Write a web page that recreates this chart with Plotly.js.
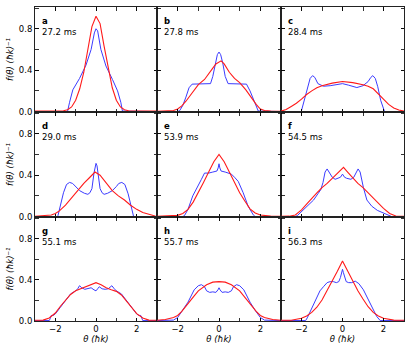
<!DOCTYPE html>
<html>
<head>
<meta charset="utf-8">
<script src="https://cdn.plot.ly/plotly-3.0.1.min.js"></script>
<style>html,body{margin:0;padding:0;background:#fff;}#plot{width:411px;height:344px;}</style>
</head>
<body>
<div id="plot"></div>
<script>
// Panel labels
const panelLetters = ['a','b','c','d','e','f','g','h','i'];
const panelTimes = ['27.2 ms','27.8 ms','28.4 ms','29.0 ms','53.9 ms','54.5 ms','55.1 ms','55.7 ms','56.3 ms'];
const xTickVals = [-2,0,2];
const xTickText = ['\u22122','0','2'];
const yTickVals = [0,0.4,0.8];
const yTickText = ['0.0','0.4','0.8'];
const xTitle = 'θ (ħk)';
const yTitle = 'f(θ) (ħk)\u207B\u00B9';

// Panel a
const aBlueTheta = [-3,-1.4,-1.3,-1.14,-0.81,-0.49,-0.24,-0.08,0,0.08,0.24,0.49,0.81,1.06,1.22,1.3,3];
const aBlueF     = [0,0,0.09,0.21,0.32,0.45,0.6,0.76,0.8,0.78,0.6,0.44,0.31,0.2,0.09,0.005,0];
const aRedTheta  = [-3,-2.5,-2,-1.6,-1.4,-1.2,-1,-0.8,-0.6,-0.4,-0.2,0,0.2,0.4,0.6,0.8,1,1.2,1.4,1.6,2,2.5,3];
const aRedF      = [0.004,0.006,0.004,0.008,0.018,0.045,0.11,0.22,0.38,0.6,0.82,0.92,0.85,0.63,0.41,0.23,0.11,0.045,0.018,0.008,0.005,0.006,0.004];

// Panel b
const bBlueTheta = [-3,-2.0,-1.9,-1.75,-1.6,-1.45,-1.3,-0.9,-0.41,-0.3,-0.18,-0.08,0,0.08,0.18,0.3,0.44,0.9,1.33,1.5,1.65,1.8,1.9,3];
const bBlueF     = [0,0,0.01,0.06,0.14,0.23,0.265,0.27,0.27,0.34,0.47,0.55,0.575,0.55,0.47,0.34,0.27,0.27,0.265,0.2,0.12,0.05,0.005,0];
const bRedTheta  = [-3,-2.5,-2.2,-2,-1.8,-1.6,-1.3,-1,-0.7,-0.5,-0.3,-0.15,0,0.1,0.25,0.5,0.75,1,1.3,1.6,1.8,2,2.2,2.5,3];
const bRedF      = [0.003,0.005,0.01,0.025,0.055,0.1,0.18,0.26,0.31,0.36,0.42,0.46,0.48,0.49,0.46,0.38,0.32,0.28,0.21,0.12,0.07,0.025,0.01,0.005,0.003];

// Panel c
const cBlueTheta = [-3,-2.05,-2.0,-1.85,-1.7,-1.58,-1.46,-1.35,-1.2,-0.93,-0.6,-0.3,0,0.3,0.7,1.0,1.25,1.38,1.48,1.6,1.72,1.86,2.0,2.05,3];
const cBlueF     = [0,0,0.01,0.12,0.25,0.32,0.347,0.33,0.27,0.245,0.25,0.26,0.27,0.255,0.232,0.25,0.29,0.33,0.347,0.32,0.24,0.11,0.01,0,0];
const cRedTheta  = [-3,-2.75,-2.5,-2.25,-2,-1.75,-1.5,-1.25,-1,-0.5,0,0.5,1,1.25,1.5,1.75,2,2.25,2.5,2.75,3];
const cRedF      = [0.004,0.02,0.05,0.08,0.12,0.165,0.2,0.23,0.25,0.275,0.29,0.28,0.26,0.245,0.22,0.17,0.12,0.07,0.035,0.015,0.004];

// Panel d
const dBlueTheta = [-3,-1.9,-1.87,-1.75,-1.6,-1.45,-1.3,-1.15,-1.0,-0.8,-0.57,-0.4,-0.3,-0.2,-0.1,-0.05,0,0.05,0.1,0.2,0.3,0.4,0.57,0.8,1.0,1.12,1.27,1.42,1.58,1.72,1.82,1.85,3];
const dBlueF     = [0,0,0.01,0.1,0.23,0.31,0.33,0.32,0.29,0.25,0.225,0.215,0.23,0.27,0.42,0.49,0.514,0.49,0.42,0.27,0.23,0.215,0.225,0.25,0.29,0.32,0.33,0.31,0.22,0.09,0.01,0,0];
const dRedTheta  = [-3,-2.5,-2.2,-2,-1.8,-1.5,-1.2,-0.9,-0.6,-0.3,-0.05,0.2,0.5,0.8,1.1,1.4,1.7,2,2.3,2.6,2.9,3];
const dRedF      = [0.003,0.006,0.015,0.03,0.055,0.11,0.18,0.257,0.32,0.38,0.43,0.4,0.33,0.25,0.2,0.16,0.11,0.07,0.04,0.02,0.005,0.003];

// Panel e
const eBlueTheta = [-3,-1.75,-1.67,-1.5,-1.27,-1.02,-0.85,-0.7,-0.5,-0.3,-0.1,-0.04,0,0.04,0.1,0.3,0.6,0.75,0.93,1.17,1.41,1.66,1.75,3];
const eBlueF     = [0,0,0.01,0.07,0.2,0.29,0.36,0.42,0.42,0.43,0.44,0.47,0.51,0.47,0.44,0.43,0.41,0.38,0.34,0.23,0.1,0.016,0,0];
const eRedTheta  = [-3,-2.5,-2,-1.75,-1.5,-1.25,-1,-0.75,-0.5,-0.25,0,0.25,0.5,0.75,1,1.25,1.5,1.75,2,2.5,3];
const eRedF      = [0.003,0.004,0.012,0.03,0.07,0.14,0.23,0.33,0.43,0.53,0.6,0.53,0.43,0.33,0.23,0.15,0.075,0.035,0.015,0.004,0.003];

// Panel f
const fBlueTheta = [-3,-2.3,-2.2,-1.9,-1.65,-1.41,-1.2,-1.06,-0.95,-0.85,-0.75,-0.65,-0.5,-0.36,-0.2,-0.1,0,0.1,0.2,0.41,0.55,0.66,0.76,0.86,0.95,1.02,1.19,1.43,1.7,2.0,2.3,2.4,3];
const fBlueF     = [0,0,0.01,0.07,0.11,0.16,0.22,0.26,0.33,0.43,0.46,0.43,0.38,0.36,0.37,0.38,0.41,0.38,0.37,0.36,0.38,0.43,0.46,0.43,0.33,0.28,0.16,0.1,0.06,0.035,0.01,0,0];
const fRedTheta  = [-3,-2.6,-2.3,-2,-1.75,-1.5,-1.25,-1,-0.75,-0.5,-0.25,0,0.05,0.25,0.5,0.75,1,1.25,1.5,1.75,2,2.3,2.6,3];
const fRedF      = [0.003,0.004,0.016,0.065,0.12,0.18,0.23,0.28,0.32,0.37,0.42,0.47,0.475,0.43,0.37,0.32,0.28,0.23,0.18,0.13,0.08,0.03,0.006,0.003];

// Panel g
const gBlueTheta = [-3,-2.3,-2.25,-2.2,-2.1,-2.0,-1.75,-1.5,-1.25,-1.0,-0.9,-0.81,-0.7,-0.55,-0.4,-0.24,-0.1,0,0.08,0.16,0.3,0.45,0.6,0.78,0.9,1.0,1.25,1.5,1.75,2.0,2.1,2.2,2.25,2.3,3];
const gBlueF     = [0,0,0.02,0.05,0.05,0.065,0.13,0.2,0.26,0.29,0.31,0.34,0.32,0.305,0.31,0.32,0.3,0.29,0.31,0.33,0.31,0.305,0.31,0.34,0.31,0.29,0.26,0.2,0.13,0.065,0.05,0.05,0.02,0,0];
const gRedTheta  = [-3,-2.6,-2.3,-2,-1.75,-1.5,-1.25,-1,-0.75,-0.5,-0.25,0,0.25,0.5,0.75,1,1.25,1.5,1.75,2,2.3,2.6,3];
const gRedF      = [0.003,0.005,0.026,0.074,0.14,0.2,0.255,0.29,0.31,0.33,0.35,0.37,0.35,0.32,0.3,0.285,0.25,0.19,0.13,0.068,0.025,0.005,0.003];

// Panel h
const hBlueTheta = [-3,-2.2,-2.0,-1.75,-1.5,-1.2,-1.0,-0.85,-0.7,-0.6,-0.45,-0.3,-0.15,-0.05,0,0.05,0.15,0.3,0.45,0.6,0.7,0.85,1.0,1.2,1.5,1.75,2.0,2.2,3];
const hBlueF     = [0,0.005,0.03,0.1,0.18,0.3,0.34,0.35,0.33,0.29,0.275,0.28,0.275,0.3,0.32,0.3,0.275,0.28,0.275,0.29,0.33,0.35,0.34,0.3,0.18,0.1,0.03,0.005,0];
const hRedTheta  = [-3,-2.6,-2.2,-2,-1.8,-1.5,-1.2,-1,-0.6,-0.3,0,0.3,0.6,1,1.2,1.5,1.8,2,2.2,2.6,3];
const hRedF      = [0.003,0.01,0.03,0.05,0.09,0.16,0.24,0.29,0.35,0.375,0.38,0.375,0.35,0.29,0.24,0.16,0.09,0.05,0.03,0.01,0.003];

// Panel i
const iBlueTheta = [-3,-1.8,-1.72,-1.6,-1.5,-1.38,-1.25,-1.1,-0.93,-0.75,-0.6,-0.45,-0.3,-0.18,-0.1,-0.04,0,0.04,0.1,0.18,0.3,0.45,0.62,0.8,1.02,1.27,1.5,1.67,1.84,3];
const iBlueF     = [0,0,0.026,0.08,0.12,0.18,0.235,0.29,0.33,0.37,0.38,0.38,0.37,0.38,0.42,0.47,0.5,0.47,0.42,0.38,0.37,0.37,0.385,0.36,0.3,0.2,0.106,0.04,0,0];
const iRedTheta  = [-3,-2.5,-2,-1.75,-1.5,-1.25,-1,-0.75,-0.5,-0.25,0,0.25,0.5,0.75,1,1.25,1.5,1.75,2,2.5,3];
const iRedF      = [0.003,0.004,0.022,0.045,0.08,0.13,0.2,0.29,0.38,0.48,0.58,0.48,0.38,0.29,0.21,0.135,0.08,0.045,0.022,0.005,0.003];

const blueSeries = [[aBlueTheta,aBlueF],[bBlueTheta,bBlueF],[cBlueTheta,cBlueF],[dBlueTheta,dBlueF],[eBlueTheta,eBlueF],[fBlueTheta,fBlueF],[gBlueTheta,gBlueF],[hBlueTheta,hBlueF],[iBlueTheta,iBlueF]];
const redSeries  = [[aRedTheta,aRedF],[bRedTheta,bRedF],[cRedTheta,cRedF],[dRedTheta,dRedF],[eRedTheta,eRedF],[fRedTheta,fRedF],[gRedTheta,gRedF],[hRedTheta,hRedF],[iRedTheta,iRedF]];

const W = 411, H = 344;
const colPx = [[35,157],[157,281],[281,404]];
const rowPx = [[7,112],[112,217],[217,321]];
const FONT = 'DejaVu Sans';
const FS = 8.5;

const traces = [];
const layout = {
  width: W, height: H,
  margin: {l:0, r:0, t:0, b:0},
  paper_bgcolor: '#fff', plot_bgcolor: '#fff',
  showlegend: false,
  font: {family: FONT, size: FS, color: '#000'},
  annotations: []
};

for (let k = 0; k < 9; k++) {
  const r = Math.floor(k/3), c = k % 3;
  const sfx = k === 0 ? '' : String(k+1);
  const xa = 'x' + sfx, ya = 'y' + sfx;
  traces.push({x: blueSeries[k][0], y: blueSeries[k][1], xaxis: xa, yaxis: ya, type: 'scatter', mode: 'lines',
               line: {color: '#3b3bff', width: 1}, hoverinfo: 'skip'});
  traces.push({x: redSeries[k][0], y: redSeries[k][1], xaxis: xa, yaxis: ya, type: 'scatter', mode: 'lines',
               line: {color: '#ff1a1a', width: 1.1}, hoverinfo: 'skip'});
  const xax = {
    domain: [colPx[c][0]/W, colPx[c][1]/W], anchor: ya, range: [-3, 3],
    tickmode: 'array', tickvals: xTickVals, ticktext: xTickText,
    minor: {dtick: 1, tick0: 0, ticks: 'inside', ticklen: 3.5, tickwidth: 0.8, tickcolor: '#000', showgrid: false},
    showticklabels: r === 2, ticks: 'inside', ticklen: 3.5, tickwidth: 0.8, tickcolor: '#000',
    showline: true, linecolor: '#222', linewidth: 1, mirror: 'allticks',
    showgrid: false, zeroline: false, tickfont: {family: FONT, size: FS, color: '#000'}
  };
  if (r === 2) xax.title = {text: xTitle, standoff: 2, font: {family: FONT, size: FS, color: '#000', style: 'italic'}};
  layout['xaxis' + sfx] = xax;
  const yax = {
    domain: [1 - rowPx[r][1]/H, 1 - rowPx[r][0]/H], anchor: xa, range: [-0.004, 1.01],
    tickmode: 'array', tickvals: yTickVals, ticktext: yTickText,
    minor: {dtick: 0.2, tick0: 0, ticks: 'inside', ticklen: 3.5, tickwidth: 0.8, tickcolor: '#000', showgrid: false},
    showticklabels: c === 0, ticks: 'inside', ticklen: 3.5, tickwidth: 0.8, tickcolor: '#000',
    showline: true, linecolor: '#222', linewidth: 1, mirror: 'allticks',
    showgrid: false, zeroline: false, tickfont: {family: FONT, size: FS, color: '#000'}
  };
  if (c === 0) yax.title = {text: yTitle, standoff: 3, font: {family: FONT, size: FS, color: '#000', style: 'italic'}};
  layout['yaxis' + sfx] = yax;
  layout.annotations.push({xref: xa + ' domain', yref: ya + ' domain', x: 0.04, y: 0.867,
    xanchor: 'left', yanchor: 'middle', showarrow: false, text: panelLetters[k],
    font: {family: FONT, size: FS, color: '#000', weight: 'bold'}});
  layout.annotations.push({xref: xa + ' domain', yref: ya + ' domain', x: 0.04, y: 0.762,
    xanchor: 'left', yanchor: 'middle', showarrow: false, text: panelTimes[k],
    font: {family: FONT, size: FS, color: '#000'}});
}

Plotly.newPlot('plot', traces, layout, {staticPlot: true, displayModeBar: false});
</script>
</body>
</html>
